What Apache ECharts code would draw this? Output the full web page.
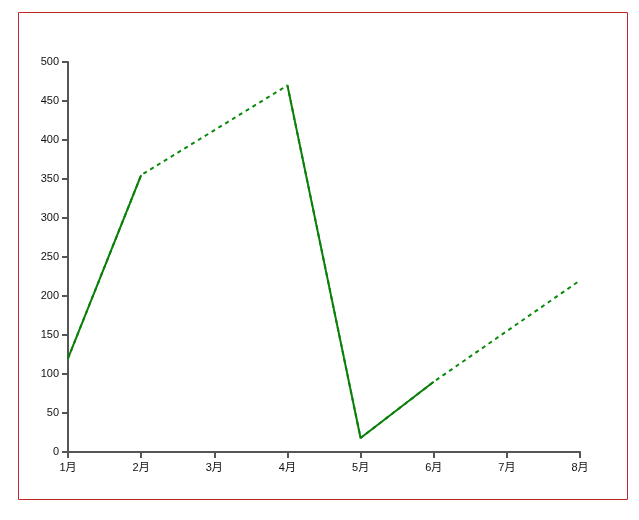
<!DOCTYPE html>
<html>
<head>
<meta charset="utf-8">
<style>
html,body{margin:0;padding:0;background:#fff;}
#chart{width:639px;height:520px;}
</style>
<script src="https://cdn.jsdelivr.net/npm/echarts@6/dist/echarts.min.js"></script>
</head>
<body>
<div id="chart"></div>
<script>
const categories = ['1月','2月','3月','4月','5月','6月','7月','8月'];
const values = [120, 355, null, 470, 18, 90, null, 220];
const yTicks = { min: 0, max: 500, interval: 50 };

const chart = echarts.init(document.getElementById('chart'));
const font = '"Liberation Sans", Arial, "Noto Sans CJK SC", sans-serif';
chart.setOption({
  animation: false,
  graphic: [{
    type: 'rect',
    shape: { x: 18.5, y: 12.5, width: 609, height: 487 },
    style: { fill: 'none', stroke: '#c0282d', lineWidth: 1 },
    silent: true
  }],
  grid: { left: 68, right: 59, top: 62, bottom: 68 },
  xAxis: {
    type: 'category',
    data: categories,
    boundaryGap: false,
    axisLine: { lineStyle: { color: '#555', width: 2 } },
    axisTick: { show: true, length: 6, lineStyle: { color: '#555', width: 2 } },
    axisLabel: { color: '#111', fontSize: 11, fontFamily: font, margin: 10 },
    splitLine: { show: false }
  },
  yAxis: {
    type: 'value',
    min: yTicks.min, max: yTicks.max, interval: yTicks.interval,
    axisLine: { show: true, lineStyle: { color: '#555', width: 2 } },
    axisTick: { show: true, length: 6, lineStyle: { color: '#555', width: 2 } },
    axisLabel: { color: '#111', fontSize: 11, fontFamily: font, margin: 9 },
    splitLine: { show: false }
  },
  series: [
    {
      type: 'line',
      data: values,
      connectNulls: true,
      showSymbol: false,
      symbol: 'none',
      z: 1,
      lineStyle: { color: '#0a8a0a', width: 2, type: [4, 4] }
    },
    {
      type: 'line',
      data: values,
      connectNulls: false,
      showSymbol: false,
      symbol: 'none',
      z: 2,
      lineStyle: { color: '#0a7f0a', width: 2 }
    }
  ]
});
</script>
</body>
</html>
